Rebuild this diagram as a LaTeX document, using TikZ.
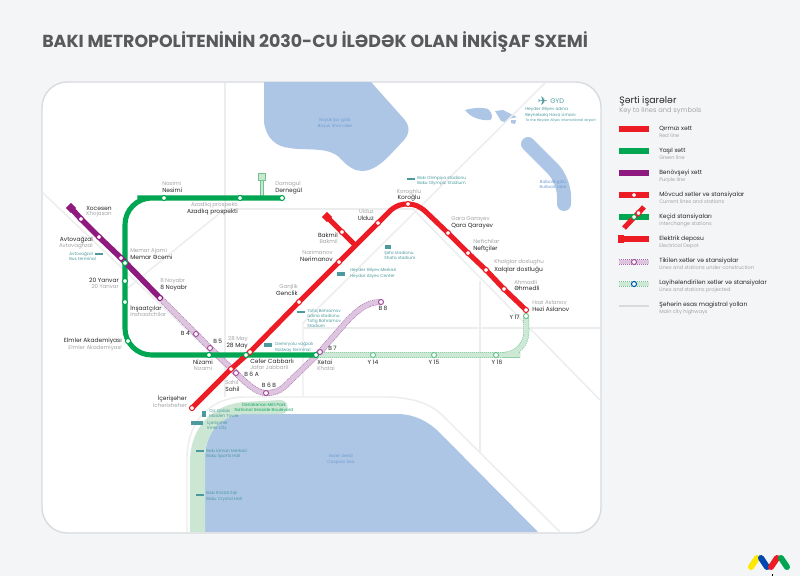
\documentclass[tikz,border=0pt]{standalone}
\usepackage{fontspec}
\setmainfont{Poppins}
\newfontfamily\symfont{DejaVu Sans}
\usepackage{xcolor}
\usetikzlibrary{backgrounds}

\definecolor{pagebg}{HTML}{F4F5F7}
\definecolor{cardline}{HTML}{D8DADD}
\definecolor{roadgray}{HTML}{ECEDEF}
\definecolor{waterblue}{HTML}{ADC6E5}
\definecolor{watertextblue}{HTML}{6F9DD2}
\definecolor{parkgreen}{HTML}{CBE6D3}
\definecolor{metrored}{HTML}{ED1C24}
\definecolor{metrogreen}{HTML}{00A651}
\definecolor{metropurple}{HTML}{8E1A80}
\definecolor{ucpurple}{HTML}{A468A9}
\definecolor{uclight}{HTML}{DDC4DF}
\definecolor{projgreen}{HTML}{6FC491}
\definecolor{projlight}{HTML}{CDE8D5}
\definecolor{poiteal}{HTML}{4C9A9E}
\definecolor{titlegray}{HTML}{58595B}
\definecolor{engray}{HTML}{A3A5A8}

\tikzset{
    road/.style={draw=roadgray,line width=1.1pt},
    redline/.style={draw=metrored,line width=3.8pt},
    greenline/.style={draw=metrogreen,line width=3.8pt},
    purpleline/.style={draw=metropurple,line width=4.2pt},
    ucline/.style={draw=ucpurple,line width=4.4pt,dash pattern=on 1pt off .5pt,postaction={draw=uclight,solid,line width=3.6pt}},
    projline/.style={draw=projgreen,line width=4.4pt,dash pattern=on 1pt off .5pt,postaction={draw=projlight,solid,line width=3.6pt}},
    stbase/.style={circle,fill=white,inner sep=0pt,minimum size=3.8pt,line width=.8pt},
    stred/.style={stbase,draw=metrored},
    stgreen/.style={stbase,draw=metrogreen},
    stpurple/.style={stbase,draw=metropurple},
    stuc/.style={stbase,draw=metropurple!75},
    stproj/.style={stbase,draw=projgreen},
    az/.style={inner sep=0pt,text=black!85,text height=3pt,text depth=.8pt,font=\fontsize{4.45}{5}\selectfont},
    en/.style={inner sep=0pt,text=engray,text height=3pt,text depth=.8pt,font=\fontsize{4.1}{5}\selectfont},
    poi/.style={inner sep=0pt,text=poiteal,align=left,anchor=west,font=\fontsize{3.2}{3.9}\selectfont},
    poiicon/.style={fill=poiteal,inner sep=0pt,minimum width=5.5pt,minimum height=1.6pt},
    watertext/.style={inner sep=0pt,text=watertextblue,align=center,font=\fontsize{3.2}{3.9}\selectfont},
    keyaz/.style={inner sep=0pt,anchor=west,text=black!85,text height=3pt,text depth=.8pt,font=\fontsize{4.5}{5}\selectfont},
    keyen/.style={inner sep=0pt,anchor=west,text=engray,text height=3pt,text depth=.8pt,font=\fontsize{3.8}{5}\selectfont},
}

\begin{document}
\begin{tikzpicture}[x=0.75pt,y=-0.75pt]
    \useasboundingbox (0,0) rectangle (800,576);

    % stations of the red line
    \node[stred] (icheri) at (192,408) {};
    \node[stred] (sahil) at (231,369) {};
    \node[stred] (may) at (250,352) {};
    \node[stred] (genclik) at (299,302) {};
    \node[stred] (neriman) at (339,262) {};
    \node[stred] (ulduz) at (378,223) {};
    \node[stred] (koroglu) at (408,204) {};
    \node[stred] (qara) at (448,233) {};
    \node[stred] (neft) at (468,253) {};
    \node[stred] (xalqlar) at (486,270) {};
    \node[stred] (ehmedli) at (504,289) {};
    \node[stred] (hezi) at (526,310) {};
    \node[stred] (bakmil) at (342,232) {};
    \node[fill=metrored,rotate=45,inner sep=0pt,minimum width=5.5pt,minimum height=5.5pt] (bakmildepot) at (327,217) {};
    \coordinate (bakmiljoin) at (356,246);
    \coordinate (korin) at (391,210);
    \coordinate (korout) at (425,211);

    % stations of the green line
    \node[stgreen] (dernegul) at (282,198) {};
    \node[stgreen] (azadliq) at (240,198) {};
    \node[stgreen] (nesimi) at (164,198) {};
    \node[stgreen] (memar) at (125,263) {};
    \node[stgreen] (yanvar) at (125,281) {};
    \node[stgreen] (insaat) at (125,302) {};
    \node[stgreen] (elmler) at (128,341) {};
    \node[stgreen] (nizami) at (209,355) {};
    \node[stgreen] (cefer) at (246,355) {};
    \node[stgreen] (xetai) at (316,355) {};
    \coordinate (gnw) at (125,198);
    \coordinate (gsw) at (125,355);
    \coordinate (depotfoot) at (262,197);
    \node[draw=projgreen,fill=parkgreen,inner sep=0pt,minimum size=4.8pt,line width=.5pt] (depothead) at (262,177) {};

    % stations of the purple line
    \node[fill=metropurple,rotate=45,inner sep=0pt,minimum width=5.5pt,minimum height=5.5pt] (purpleend) at (71,208) {};
    \node[stpurple] (xocesen) at (81,219) {};
    \node[stpurple] (avto) at (99,237) {};
    \node[stpurple] (memarp) at (121,258) {};
    \node[stpurple] (noyabr) at (160,298) {};

    % lines under construction
    \node[stuc] (bfour) at (196,334) {};
    \node[stuc] (bfive) at (210,348) {};
    \node[stuc] (bsixa) at (236,373) {};
    \node[stuc] (bsixb) at (266,393) {};
    \node[stuc] (bseven) at (320,352) {};
    \node[stuc] (beight) at (381,302) {};
    \coordinate (ucrise) at (285,386);
    \coordinate (uchigh) at (348,320);

    % projected line
    \node[stproj] (yfourteen) at (373,355) {};
    \node[stproj] (yfifteen) at (434,355) {};
    \node[stproj] (ysixteen) at (496,355) {};
    \node[stproj] (yseventeen) at (526,316) {};
    \coordinate (yse) at (527,355);

    \begin{scope}[on background layer]
        \fill[pagebg] (0,0) rectangle (800,576);
        \draw[fill=white,draw=cardline,line width=1pt,rounded corners=19pt] (42,82) rectangle (601,533);

        % water
        \fill[waterblue] (264,82) -- (264,122) .. controls (266,138) and (276,147) .. (290,148) .. controls (305,151) and (328,146) .. (340,158) .. controls (348,167) and (355,171) .. (362,171) .. controls (373,171) and (382,163) .. (390,155) -- (404,140) .. controls (410,133) and (410,126) .. (404,119) -- (371,82) -- cycle;
        \fill[waterblue] (465,110) .. controls (472,108) and (482,107) .. (488,109) .. controls (493,113) and (493,119) .. (490,120) .. controls (480,121) and (470,117) .. (465,110) -- cycle;
        \fill[waterblue] (495,111) -- (503,110) -- (517,117) -- (508,119) -- (505,122) -- (501,121) -- cycle;
        \fill[waterblue] (511,120) -- (516,120) -- (515,124) -- (511,123) -- cycle;
        \draw[waterblue,line width=10.5pt,line cap=round,rounded corners=12pt] (528,144) -- (564,180) -- (564,204);
        \fill[waterblue] (205,532) -- (205,458) .. controls (205,432) and (222,414) .. (245,414) -- (400,414) .. controls (415,415) and (428,421) .. (440,433) -- (538,532) -- cycle;

        % park
        \fill[parkgreen] (190,532) -- (190,462) .. controls (190,428) and (212,404) .. (245,402) -- (280,400) .. controls (290,400) and (290,414) .. (281,414) -- (245,414) .. controls (222,414) and (205,432) .. (205,458) -- (205,532) -- cycle;

        % roads
        \draw[road] (225,83) -- (225,397);
        \draw[road] (225,209) -- (415,209);
        \draw[road] (43,193) -- (245,385);
        \draw[road] (124,291) -- (225,209);
        \draw[road] (545,83) -- (303,323) -- (303,397);
        \draw[road] (303,328) -- (600,328);
        \draw[road] (413,209) -- (600,400);
        \draw[road] (480,281) -- (480,452);
        \draw[road] (187,532) -- (187,458) .. controls (187,422) and (210,397) .. (245,397) -- (390,397) .. controls (410,398) and (428,402) .. (441,414) -- (560,532);

        % metro lines
        \draw[ucline] (noyabr.center) -- (bfour.center) -- (bfive.center) -- (bsixa.center) .. controls (250,387) and (258,393) .. (bsixb.center) .. controls (274,393) and (280,391) .. (ucrise) -- (bseven.center) -- (uchigh) .. controls (360,308) and (368,302) .. (beight.center);
        \draw[projline,rounded corners=18pt] (xetai.center) -- (yfourteen.center) -- (yfifteen.center) -- (ysixteen.center) -- (yse) -- (yseventeen.center);
        \draw[projgreen,line width=3pt] (depothead) -- (depotfoot);
        \draw[parkgreen,line width=2.2pt] (depothead) -- (depotfoot);
        \draw[greenline,rounded corners=20pt] (dernegul.center) -- (azadliq.center) -- (nesimi.center) -- (gnw) -- (memar.center) -- (yanvar.center) -- (insaat.center) -- (gsw) -- (nizami.center) -- (cefer.center) -- (xetai.center);
        \draw[purpleline] (purpleend.center) -- (xocesen.center) -- (avto.center) -- (memarp.center) -- (noyabr.center);
        \draw[redline] (icheri.center) -- (sahil.center) -- (may.center) -- (genclik.center) -- (neriman.center) -- (ulduz.center) -- (korin) .. controls (397,205) and (402,204) .. (koroglu.center) .. controls (414,204) and (419,206) .. (korout) -- (qara.center) -- (neft.center) -- (xalqlar.center) -- (ehmedli.center) -- (hezi.center);
        \draw[redline] (bakmildepot.center) -- (bakmil.center) -- (bakmiljoin);
    \end{scope}

    % title
    \node[inner sep=0pt,anchor=west,text=titlegray,font=\fontsize{13.05}{15}\selectfont\bfseries] (title) at (42,42) {BAKI METROPOLİTENİNİN 2030-CU İLƏDƏK OLAN İNKİŞAF SXEMİ};

    % station labels, green line
    \node[en,anchor=west] (nesimi-en) at (162,184) {Nasimi};
    \node[az,anchor=west] (nesimi-az) at (162,191) {Nəsimi};
    \node[en,anchor=east] (azadliq-en) at (238,205) {Azadlıq prospekti};
    \node[az,anchor=east] (azadliq-az) at (238,212) {Azadlıq prospekti};
    \node[en,anchor=west] (dernegul-en) at (275,184) {Darnagul};
    \node[az,anchor=west] (dernegul-az) at (275,191) {Dərnəgül};
    \node[en,anchor=west] (memar-en) at (130,251) {Memar Ajami};
    \node[az,anchor=west] (memar-az) at (130,258) {Memar Əcəmi};
    \node[az,anchor=east] (yanvar-az) at (119,281) {20 Yanvar};
    \node[en,anchor=east] (yanvar-en) at (119,287) {20 Yanvar};
    \node[az,anchor=west] (insaat-az) at (130,309) {İnşaatçılar};
    \node[en,anchor=west] (insaat-en) at (130,315) {Inshaatchilar};
    \node[az,anchor=east] (elmler-az) at (122,341) {Elmlər Akademiyası};
    \node[en,anchor=east] (elmler-en) at (122,348) {Elmler Akademiyasi};
    \node[az] (nizami-az) at (203,363) {Nizami};
    \node[en] (nizami-en) at (203,369) {Nizami};
    \node[az,anchor=west] (cefer-az) at (250,362) {Cəfər Cabbarlı};
    \node[en,anchor=west] (cefer-en) at (250,368) {Jafar Jabbarli};
    \node[az,anchor=west] (xetai-az) at (317,363) {Xətai};
    \node[en,anchor=west] (xetai-en) at (317,369) {Khatai};

    % station labels, red line
    \node[az,anchor=east] (icheri-az) at (187,399) {İçərişəhər};
    \node[en,anchor=east] (icheri-en) at (187,406) {Icherisheher};
    \node[en,anchor=west] (sahil-en) at (225,383) {Sahil};
    \node[az,anchor=west] (sahil-az) at (225,390) {Sahil};
    \node[en,anchor=east] (may-en) at (248,339) {28 May};
    \node[az,anchor=east] (may-az) at (248,346) {28 May};
    \node[en,anchor=east] (genclik-en) at (298,287) {Ganjlik};
    \node[az,anchor=east] (genclik-az) at (298,294) {Gənclik};
    \node[en,anchor=east] (neriman-en) at (333,253) {Narimanov};
    \node[az,anchor=east] (neriman-az) at (333,260) {Nərimanov};
    \node[az,anchor=east] (bakmil-az) at (338,236) {Bakmil};
    \node[en,anchor=east] (bakmil-en) at (338,242) {Bakmil};
    \node[en,anchor=east] (ulduz-en) at (374,212) {Ulduz};
    \node[az,anchor=east] (ulduz-az) at (374,219) {Ulduz};
    \node[en] (koroglu-en) at (409,192) {Koroghlu};
    \node[az] (koroglu-az) at (409,198) {Koroğlu};
    \node[en,anchor=west] (qara-en) at (451,219) {Gara Garayev};
    \node[az,anchor=west] (qara-az) at (451,226) {Qara Qarayev};
    \node[en,anchor=west] (neft-en) at (473,242) {Neftchilar};
    \node[az,anchor=west] (neft-az) at (473,249) {Neftçilər};
    \node[en,anchor=west] (xalqlar-en) at (494,262) {Khalglar doslughu};
    \node[az,anchor=west] (xalqlar-az) at (494,270) {Xalqlar dostluğu};
    \node[en,anchor=west] (ehmedli-en) at (514,283) {Ahmadli};
    \node[az,anchor=west] (ehmedli-az) at (514,289) {Əhmədli};
    \node[en,anchor=west] (hezi-en) at (532,303) {Hazi Aslanov};
    \node[az,anchor=west] (hezi-az) at (532,310) {Həzi Aslanov};

    % station labels, purple line
    \node[az,anchor=west] (xocesen-az) at (86,209) {Xocəsən};
    \node[en,anchor=west] (xocesen-en) at (86,214) {Khojasan};
    \node[az,anchor=east] (avto-az) at (93,240) {Avtovağzal};
    \node[en,anchor=east] (avto-en) at (93,246) {Avtovaghzal};
    \node[en,anchor=west] (noyabr-en) at (160,281) {8 Noyabr};
    \node[az,anchor=west] (noyabr-az) at (160,288) {8 Noyabr};

    % labels of the planned stations
    \node[az,anchor=east] (bfour-az) at (190,334) {B 4};
    \node[az,anchor=west] (bfive-az) at (213,342) {B 5};
    \node[az,anchor=west] (bsixa-az) at (244,375) {B 6 A};
    \node[az] (bsixb-az) at (269,386) {B 6 B};
    \node[az,anchor=west] (bseven-az) at (328,349) {B 7};
    \node[az] (beight-az) at (383,309) {B 8};
    \node[az] (yfourteen-az) at (373,363) {Y 14};
    \node[az] (yfifteen-az) at (434,363) {Y 15};
    \node[az] (ysixteen-az) at (497,363) {Y 16};
    \node[az,anchor=east] (yseventeen-az) at (520,318) {Y 17};

    % places of interest
    \node[poiicon] (bus-ic) at (99,254) {};
    \node[poi] (bus-tx) at (69,256.5) {Avtovağzal\\Bus terminal};
    \node[poiicon] (olympic-ic) at (411,179) {};
    \node[poi] (olympic-tx) at (417,181) {Bakı Olimpiya stadionu\\Baku Olympic Stadium};
    \node[poiicon,minimum width=4.5pt,minimum height=2.4pt] (shafa-ic) at (388,247) {};
    \node[poi] (shafa-tx) at (384,255.5) {Şəfa stadionu\\Shafa stadium};
    \node[poiicon,minimum height=2.4pt] (heydar-ic) at (341,274) {};
    \node[poi] (heydar-tx) at (350,273.5) {Heydər Əliyev Mərkəzi\\Heydar Aliyev Center};
    \node[poiicon] (tofiq-ic) at (301,312) {};
    \node[poi] (tofiq-tx) at (307,318.5) {Tofiq Bəhramov\\adına stadionu\\Tofig Bahramov\\Stadium};
    \node[poiicon,minimum height=2.4pt] (rail-ic) at (268,345) {};
    \node[poi] (rail-tx) at (275,347.5) {Dəmiryolu vağzalı\\Railway terminal};
    \node[poiicon,minimum width=3.5pt,minimum height=5pt] (maiden-ic) at (204,414) {};
    \node[poi] (maiden-tx) at (209,413.5) {Qız Qalası\\Maiden Tower};
    \node[poiicon,minimum width=9pt,minimum height=3.5pt] (inner-ic) at (197,423) {};
    \node[poi] (inner-tx) at (207,425.5) {İçərişəhər\\Inner city};
    \node[poiicon] (sports-ic) at (200,451) {};
    \node[poi] (sports-tx) at (206,453.5) {Bakı İdman Mərkəzi\\Baku Sports Hall};
    \node[poiicon] (crystal-ic) at (200,495) {};
    \node[poi] (crystal-tx) at (206,496.5) {Bakı Kristal Zalı\\Baku Crystal Hall};
    \node[poi,anchor=center,align=center,text=metrogreen!80!poiteal] (park-tx) at (264,407.5) {Dənizkənarı Milli Park\\National Seaside Boulevard};
    \node[inner sep=0pt,text=poiteal,font=\symfont\fontsize{9}{9}\selectfont] (plane-ic) at (543,101) {✈};
    \node[poi,font=\fontsize{5}{5}\selectfont] (gyd-tx) at (550,101) {GYD};
    \node[poi] (airport-tx) at (525,115) {Heydər Əliyev adına\\Beynəlxalq Hava Limanı\\{\fontsize{2.6}{3}\selectfont To the Heydar Aliyev international airport}};

    % water labels
    \node[watertext] (shor-tx) at (335,123.5) {Böyük Şor gölü\\Boyuk Shor Lake};
    \node[watertext] (bulbule-tx) at (553,184.5) {Bülbülə gölü\\Bulbula Lake};
    \node[watertext] (caspian-tx) at (341,459.5) {Xəzər dənizi\\Caspian Sea};

    % legend
    \node[inner sep=0pt,anchor=west,text=black!85,font=\fontsize{7}{8}\selectfont] (key-title) at (619,101) {Şərti işarələr};
    \node[inner sep=0pt,anchor=west,text=engray,font=\fontsize{5}{6}\selectfont] (key-sub) at (619,111) {Key to lines and symbols};
    \foreach \row/\azname/\enname in {1/Qırmızı xətt/Red line,2/Yaşıl xətt/Green line,3/Bənövşəyi xətt/Purple line,4/Mövcud xətlər və stansiyalar/Current lines and stations,5/Keçid stansiyaları/Interchange stations,6/Elektrik deposu/Electrical Depot,7/Tikilən xətlər və stansiyalar/Lines and stations under construction,8/Layihələndirilən xətlər və stansiyalar/Lines and stations projected,9/Şəhərin əsas magistral yolları/Main city highways}{
        \node[keyaz] (key-az-\row) at (659,107+22*\row) {\azname};
        \node[keyen] (key-en-\row) at (659,114+22*\row) {\enname};
    }
    \draw[redline] (619,129) -- (649,129);
    \draw[greenline] (619,151) -- (649,151);
    \draw[purpleline] (619,173) -- (649,173);
    \draw[redline] (619,195) -- (649,195);
    \node[stred] (key-current) at (634,195) {};
    \draw[greenline] (619,217) -- (649,217);
    \draw[redline] (624,228) -- (644,207);
    \node[stgreen] (key-change-g) at (634,217) {};
    \node[stred] (key-change-r) at (638.5,213) {};
    \draw[redline] (619,239) -- (649,239);
    \node[fill=metrored,inner sep=0pt,minimum width=4.5pt,minimum height=6pt] (key-depot) at (621,239) {};
    \draw[ucline] (619,262) -- (649,262);
    \node[stuc] (key-uc) at (634,262) {};
    \draw[projline] (619,284) -- (649,284);
    \node[stbase,draw=blue!50!cyan!70!black] (key-proj) at (634,284) {};
    \draw[draw=cardline,line width=1.5pt] (619,306) -- (649,306);

    % logo
    \draw[yellow!90!orange,line width=4.5pt,line cap=round] (751,567) -- (757,558);
    \draw[blue!60!cyan!70!black,line width=4.5pt,line cap=round] (761,558) -- (767,567);
    \draw[metrored,line width=4.5pt,line cap=round] (771,567) -- (777,558);
    \draw[metrogreen,line width=4.5pt,line cap=round] (781,558) -- (787,567);
    \fill[black] (771.5,574) rectangle (772.5,576);
\end{tikzpicture}
\end{document}
